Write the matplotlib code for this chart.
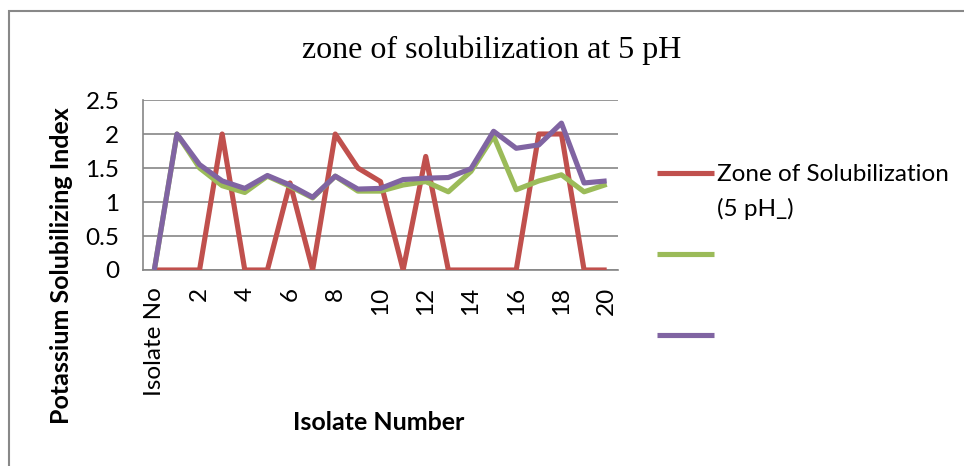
import matplotlib
matplotlib.use("Agg")
import matplotlib.pyplot as plt
from matplotlib.patches import Rectangle

categories = ["Isolate No"] + [str(i) for i in range(1, 21)]
red_vals = [0, 0, 0, 2, 0, 0, 1.28, 0, 2, 1.5, 1.3, 0, 1.67, 0, 0, 0, 0, 2, 2, 0, 0]
green_vals = [0, 2, 1.5, 1.24, 1.14, 1.38, 1.23, 1.06, 1.38, 1.16, 1.16, 1.25, 1.3, 1.15, 1.45, 1.97, 1.18, 1.31, 1.4, 1.15, 1.26]
purple_vals = [0, 2, 1.55, 1.31, 1.2, 1.39, 1.25, 1.07, 1.38, 1.19, 1.2, 1.33, 1.35, 1.36, 1.49, 2.04, 1.79, 1.84, 2.16, 1.28, 1.31]
series_labels = ["Zone of Solubilization", " ", " "]
label_cont = "(5 pH_)"
colors = ["#C0504D", "#9BBB59", "#8064A2"]
yticks = [0, 0.5, 1, 1.5, 2, 2.5]

sans = ["Lato", "DejaVu Sans"]
fs = 17.5

fig = plt.figure(figsize=(9.64, 4.66), dpi=100)
ax = fig.add_axes([143/964, 1-270/466, 475/964, 170/466])

x = list(range(len(categories)))
lines = []
for vals, c, lab in zip([red_vals, green_vals, purple_vals], colors, series_labels):
    ln, = ax.plot(x, vals, color=c, lw=3.7, label=lab,
                  solid_joinstyle="round", solid_capstyle="butt", zorder=3)
    lines.append(ln)

ax.set_xlim(-0.5, len(categories) - 0.5)
ax.set_ylim(0, 2.5)
ax.set_yticks(yticks)
ax.set_yticklabels([f"{v:g}" for v in yticks], fontsize=fs, family=sans)
ax.yaxis.grid(True, color="#868686", lw=1.2)
ax.set_axisbelow(True)
ax.set_xticks(x[::2])
ax.set_xticklabels(categories[::2], rotation=90, fontsize=fs, family=sans, va="top")
ax.tick_params(axis="y", length=0, pad=17)
ax.tick_params(axis="x", length=0, pad=12)
for s in ["top", "right"]:
    ax.spines[s].set_visible(False)
for s in ["left", "bottom"]:
    ax.spines[s].set_color("#868686")
    ax.spines[s].set_linewidth(1.2)

ax.set_ylabel("Potassium Solubilizing Index", fontsize=18, fontweight="bold", family=sans)
ax.yaxis.set_label_coords(-(143-62)/475, (270-266)/170)
ax.yaxis.label.set_va("center")
ax.set_xlabel("Isolate Number", fontsize=18, fontweight="bold", family=sans)
ax.xaxis.set_label_coords((379-143)/475, -(422-270)/170)
ax.xaxis.label.set_va("center")

fig.text(492/964, 1-50/466, "zone of solubilization at 5 pH", ha="center", va="center",
         fontsize=23, family=["Liberation Serif", "DejaVu Serif"])

leg = ax.legend(handles=lines, labels=series_labels, loc="upper left",
                bbox_to_anchor=(645/964, 1-152/466), bbox_transform=fig.transFigure,
                frameon=False, prop={"family": sans, "size": fs},
                handlelength=2.35, handletextpad=0.12, labelspacing=2.48, borderpad=0)

fig.canvas.draw()
tb = leg.get_texts()[0].get_window_extent()
fig.text(tb.x0 / fig.bbox.width, 1 - 209/466, label_cont, ha="left", va="center",
         fontsize=fs, family=sans)

fig.add_artist(Rectangle((9/964, -0.02), 1.5, 1-11/466 + 0.02, transform=fig.transFigure,
                         fill=False, edgecolor="#888888", lw=1.5))

fig.savefig("out.png", dpi=100)
